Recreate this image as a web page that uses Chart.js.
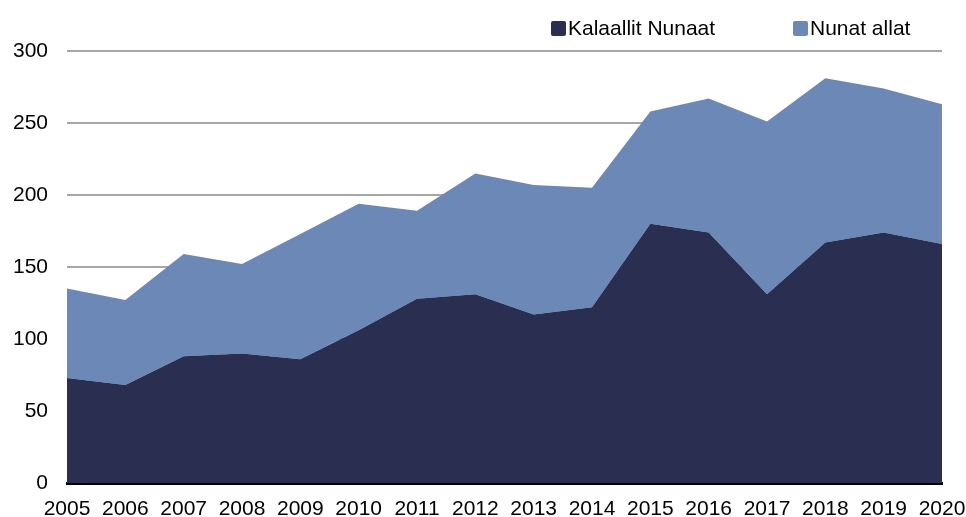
<!DOCTYPE html>
<html>
<head>
<meta charset="utf-8">
<script src="https://cdn.jsdelivr.net/npm/chart.js@4"></script>
<style>
    body { margin: 0; background: #fff; }
    #wrap { position: relative; width: 966px; height: 517px; }
    .legend { position: absolute; top: 16px; left: 0; width: 966px; height: 24px; font: 21px "Liberation Sans", Arial, sans-serif; color: #000; }
    .item { position: absolute; top: 0; display: flex; align-items: center; white-space: nowrap; }
    .box { width: 15px; height: 15px; border-radius: 2px; margin-right: 2px; }
</style>
</head>
<body>
<div id="wrap">
    <canvas id="areaChart" width="966" height="517"></canvas>
    <div class="legend">
        <div class="item" style="left:551px"><span class="box" style="background:#2a2f52"></span>Kalaallit Nunaat</div>
        <div class="item" style="left:793px"><span class="box" style="background:#6b88b6"></span>Nunat allat</div>
    </div>
</div>
<script>
const years = ["2005", "2006", "2007", "2008", "2009", "2010", "2011", "2012",
    "2013", "2014", "2015", "2016", "2017", "2018", "2019", "2020"];

const kalaallitNunaat = [73, 68, 88, 90, 86, 106, 128, 131, 117, 122, 180, 174, 131, 167, 174, 166];
const nunatAllat = [62, 59, 71, 62, 87, 88, 61, 84, 90, 83, 78, 93, 120, 114, 100, 97];

const yTicks = [0, 50, 100, 150, 200, 250, 300];

const COLORS = {
    dark: "#2a2f52",
    light: "#6b88b6",
    grid: "#a6a6a6",
};

const font = { family: "'Liberation Sans', Arial, sans-serif", size: 21 };

new Chart(document.getElementById("areaChart"), {
    type: "line",

    data: {
        labels: years,

        datasets: [
            {
                label: "Kalaallit Nunaat",
                data: kalaallitNunaat,
                backgroundColor: COLORS.dark,
                borderWidth: 0,
                pointRadius: 0,
                fill: "origin",
            },
            {
                label: "Nunat allat",
                data: nunatAllat,
                backgroundColor: COLORS.light,
                borderWidth: 0,
                pointRadius: 0,
                fill: "-1",
            },
        ],
    },

    options: {
        responsive: false,
        animation: false,
        layout: { padding: { top: 51, right: 24, bottom: 0, left: 0 } },

        plugins: {
            legend: { display: false },
            tooltip: { enabled: false },
        },

        scales: {
            x: {
                offset: false,
                z: 1,
                grid: { display: false, drawTicks: false },
                border: { display: true, color: "#000", width: 3 },
                ticks: { color: "#000", font, padding: 14, maxRotation: 0, autoSkip: false },
                afterFit: (scale) => {
                    scale.height = 34;
                    scale.paddingLeft = 0;
                    scale.paddingRight = 0;
                },
            },

            y: {
                stacked: true,
                min: 0,
                max: 300,
                afterBuildTicks: (scale) => { scale.ticks = yTicks.map((v) => ({ value: v })); },
                grid: {
                    color: COLORS.grid,
                    lineWidth: 2,
                    drawTicks: false,
                },
                border: { display: false },
                ticks: { color: "#000", font, padding: 19 },
                afterFit: (scale) => {
                    scale.width = 67;
                    scale.paddingTop = 0;
                    scale.paddingBottom = 0;
                },
            },
        },
    },
});
</script>
</body>
</html>
